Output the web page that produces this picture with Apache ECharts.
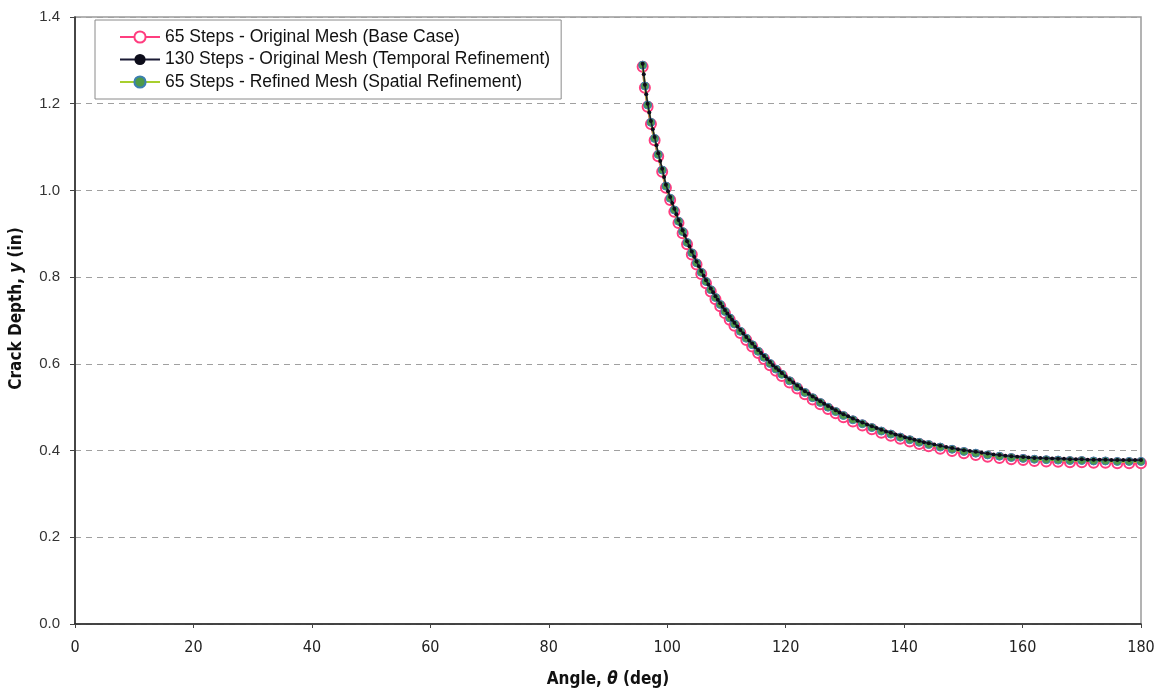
<!DOCTYPE html>
<html>
<head>
<meta charset="utf-8">
<script src="https://cdn.jsdelivr.net/npm/echarts@6/dist/echarts.min.js"></script>
<style>
html,body{margin:0;padding:0;background:#fff;}
#chart{width:1161px;height:693px;}
</style>
</head>
<body>
<div id="chart"></div>
<script>
// ---- Data ----
const seriesNames = [
  '65 Steps - Original Mesh (Base Case)',
  '130 Steps - Original Mesh (Temporal Refinement)',
  '65 Steps - Refined Mesh (Spatial Refinement)'
];
const xTicks = [0, 20, 40, 60, 80, 100, 120, 140, 160, 180];
const yTicks = [0.0, 0.2, 0.4, 0.6, 0.8, 1.0, 1.2, 1.4];

// 65-step runs: angles (deg)
const theta65 = [
  95.85, 96.23, 96.69, 97.25, 97.87, 98.48, 99.15, 99.78, 100.5, 101.2,
  101.9, 102.6, 103.35, 104.15, 104.95, 105.75, 106.55, 107.35, 108.15, 108.95,
  109.75, 110.55, 111.35, 112.35, 113.35, 114.35, 115.35, 116.35, 117.35, 118.35,
  119.35, 120.65, 121.95, 123.25, 124.55, 125.85, 127.15, 128.45, 129.75, 131.35,
  132.95, 134.55, 136.15, 137.75, 139.35, 140.95, 142.55, 144.15, 146.1, 148.1,
  150.1, 152.1, 154.1, 156.1, 158.1, 160.1, 162.0, 164.0, 166.0, 168.0,
  170.0, 172.0, 174.0, 176.0, 178.0, 180.0
];
// Base case (original mesh, 65 steps): crack depth (in)
const depthBase = [
  1.285, 1.237, 1.193, 1.153, 1.116, 1.079, 1.043, 1.006, 0.978, 0.951,
  0.925, 0.901, 0.876, 0.852, 0.829, 0.807, 0.786, 0.767, 0.749, 0.733,
  0.717, 0.702, 0.688, 0.671, 0.655, 0.640, 0.625, 0.611, 0.597, 0.584,
  0.572, 0.557, 0.543, 0.530, 0.518, 0.507, 0.496, 0.486, 0.477, 0.467,
  0.458, 0.449, 0.441, 0.434, 0.427, 0.421, 0.415, 0.410, 0.404, 0.399,
  0.394, 0.390, 0.386, 0.383, 0.380, 0.378, 0.376, 0.375, 0.374, 0.373,
  0.373, 0.372, 0.372, 0.371, 0.371, 0.371
];
// Refined mesh (65 steps): crack depth (in)
const depthRefined = [
  1.289, 1.241, 1.197, 1.157, 1.120, 1.083, 1.047, 1.010, 0.982, 0.955,
  0.929, 0.905, 0.880, 0.856, 0.833, 0.811, 0.790, 0.771, 0.753, 0.737,
  0.721, 0.706, 0.692, 0.675, 0.659, 0.644, 0.629, 0.615, 0.601, 0.588,
  0.576, 0.561, 0.547, 0.534, 0.522, 0.511, 0.500, 0.490, 0.481, 0.471,
  0.462, 0.453, 0.445, 0.438, 0.431, 0.425, 0.419, 0.414, 0.408, 0.403,
  0.398, 0.394, 0.390, 0.387, 0.384, 0.382, 0.380, 0.379, 0.378, 0.377,
  0.377, 0.376, 0.376, 0.375, 0.375, 0.375
];
// Temporal refinement (130 steps): angles (deg)
const theta130 = [
  95.85, 96.04, 96.23, 96.46, 96.69, 96.97, 97.25, 97.56, 97.87, 98.18,
  98.48, 98.82, 99.15, 99.47, 99.78, 100.14, 100.5, 100.85, 101.2, 101.55,
  101.9, 102.25, 102.6, 102.98, 103.35, 103.75, 104.15, 104.55, 104.95, 105.35,
  105.75, 106.15, 106.55, 106.95, 107.35, 107.75, 108.15, 108.55, 108.95, 109.35,
  109.75, 110.15, 110.55, 110.95, 111.35, 111.85, 112.35, 112.85, 113.35, 113.85,
  114.35, 114.85, 115.35, 115.85, 116.35, 116.85, 117.35, 117.85, 118.35, 118.85,
  119.35, 120.0, 120.65, 121.3, 121.95, 122.6, 123.25, 123.9, 124.55, 125.2,
  125.85, 126.5, 127.15, 127.8, 128.45, 129.1, 129.75, 130.55, 131.35, 132.15,
  132.95, 133.75, 134.55, 135.35, 136.15, 136.95, 137.75, 138.55, 139.35, 140.15,
  140.95, 141.75, 142.55, 143.35, 144.15, 145.1, 146.1, 147.1, 148.1, 149.1,
  150.1, 151.1, 152.1, 153.1, 154.1, 155.1, 156.1, 157.1, 158.1, 159.1,
  160.1, 161.0, 162.0, 163.0, 164.0, 165.0, 166.0, 167.0, 168.0, 169.0,
  170.0, 171.0, 172.0, 173.0, 174.0, 175.0, 176.0, 177.0, 178.0, 179.0,
  180.0
];
const depth130 = [
  1.292, 1.268, 1.244, 1.222, 1.200, 1.180, 1.160, 1.141, 1.123, 1.104,
  1.086, 1.068, 1.050, 1.031, 1.013, 0.998, 0.985, 0.971, 0.958, 0.945,
  0.932, 0.920, 0.908, 0.896, 0.883, 0.871, 0.859, 0.847, 0.836, 0.825,
  0.814, 0.803, 0.793, 0.783, 0.774, 0.765, 0.756, 0.748, 0.740, 0.732,
  0.724, 0.716, 0.709, 0.702, 0.695, 0.686, 0.678, 0.670, 0.662, 0.654,
  0.647, 0.639, 0.632, 0.625, 0.618, 0.611, 0.604, 0.597, 0.591, 0.585,
  0.579, 0.571, 0.564, 0.557, 0.550, 0.543, 0.537, 0.531, 0.525, 0.519,
  0.514, 0.508, 0.503, 0.498, 0.493, 0.488, 0.484, 0.479, 0.474, 0.469,
  0.465, 0.460, 0.456, 0.452, 0.448, 0.444, 0.441, 0.437, 0.434, 0.431,
  0.428, 0.425, 0.422, 0.419, 0.417, 0.414, 0.411, 0.408, 0.406, 0.403,
  0.401, 0.399, 0.397, 0.395, 0.393, 0.391, 0.390, 0.388, 0.387, 0.386,
  0.385, 0.384, 0.383, 0.383, 0.382, 0.382, 0.381, 0.381, 0.380, 0.380,
  0.380, 0.379, 0.379, 0.379, 0.379, 0.378, 0.378, 0.378, 0.378, 0.378,
  0.378
];

const zip = (xs, ys) => xs.map((x, i) => [x, ys[i]]);

const chart = echarts.init(document.getElementById('chart'), null, {renderer: 'canvas'});
const narrow = "'Liberation Sans Narrow', 'Arial Narrow', 'DejaVu Sans Condensed', 'Liberation Sans', Arial, sans-serif";
const sans = "'Liberation Sans', Arial, sans-serif";

chart.setOption({
  backgroundColor: '#ffffff',
  animation: false,
  grid: {
    left: 74, right: 20, top: 17, bottom: 69,
    show: true, borderColor: '#9a9a9a', borderWidth: 1.5, backgroundColor: 'transparent'
  },
  legend: {
    orient: 'vertical',
    left: 95, top: 20,
    padding: [8, 11, 8, 24],
    itemGap: 4.5,
    itemWidth: 40, itemHeight: 14,
    backgroundColor: '#ffffff',
    borderColor: '#8a8a8a', borderWidth: 1,
    textStyle: {fontFamily: sans, fontSize: 17.5, color: '#111'},
    data: seriesNames
  },
  xAxis: {
    type: 'value',
    min: xTicks[0], max: xTicks[xTicks.length - 1], interval: 20,
    name: '{b|Angle, }{i|θ}{b| (deg)}',
    nameLocation: 'middle', nameGap: 47,
    nameTextStyle: {
      rich: {
        b: {fontFamily: narrow, fontWeight: 'bold', fontSize: 17, color: '#111'},
        i: {fontFamily: narrow, fontWeight: 'bold', fontStyle: 'italic', fontSize: 17, color: '#111'}
      }
    },
    axisLine: {show: true, onZero: false, lineStyle: {color: '#222', width: 1.5}},
    axisTick: {show: true, inside: false, length: 4, lineStyle: {color: '#444'}},
    axisLabel: {fontFamily: narrow, fontSize: 16, color: '#222', margin: 16},
    splitLine: {show: false}
  },
  yAxis: {
    type: 'value',
    min: yTicks[0], max: yTicks[yTicks.length - 1], interval: 0.2,
    name: '{b|Crack Depth, }{i|y}{b| (in)}',
    nameLocation: 'middle', nameGap: 50, nameRotate: 90,
    nameTextStyle: {
      padding: [0, 0, 0, 24],
      rich: {
        b: {fontFamily: narrow, fontWeight: 'bold', fontSize: 17, color: '#111'},
        i: {fontFamily: narrow, fontWeight: 'bold', fontStyle: 'italic', fontSize: 17, color: '#111'}
      }
    },
    axisLine: {show: true, onZero: false, lineStyle: {color: '#222', width: 1.5}},
    axisTick: {show: true, inside: false, length: 5, lineStyle: {color: '#444'}},
    axisLabel: {fontFamily: sans, fontSize: 15, color: '#333', margin: 15,
      formatter: v => v.toFixed(1)},
    splitLine: {show: true, lineStyle: {color: '#a0a0a0', type: [6, 5], width: 1}}
  },
  series: [
    {
      name: seriesNames[0], type: 'line', z: 2,
      data: zip(theta65, depthBase),
      showSymbol: true, showAllSymbol: true,
      symbol: 'circle', symbolSize: 10,
      lineStyle: {color: '#ff3d7f', width: 2.5},
      itemStyle: {color: '#ffffff', borderColor: '#ff3d7f', borderWidth: 2},
      emphasis: {disabled: true}
    },
    {
      name: seriesNames[1], type: 'line', z: 4,
      data: zip(theta130, depth130),
      showSymbol: true, showAllSymbol: true,
      symbol: 'circle', symbolSize: 4,
      lineStyle: {color: '#1b1b35', width: 1.6},
      itemStyle: {color: '#0d0d1a', borderColor: '#0d0d1a', borderWidth: 0},
      emphasis: {disabled: true}
    },
    {
      name: seriesNames[2], type: 'line', z: 3,
      data: zip(theta65, depthRefined),
      showSymbol: true, showAllSymbol: true,
      symbol: 'circle', symbolSize: 8,
      lineStyle: {color: '#a8cf2e', width: 2.5},
      itemStyle: {color: '#4e9a48', borderColor: '#3c7fb0', borderWidth: 1},
      emphasis: {disabled: true}
    }
  ]
});
</script>
</body>
</html>
